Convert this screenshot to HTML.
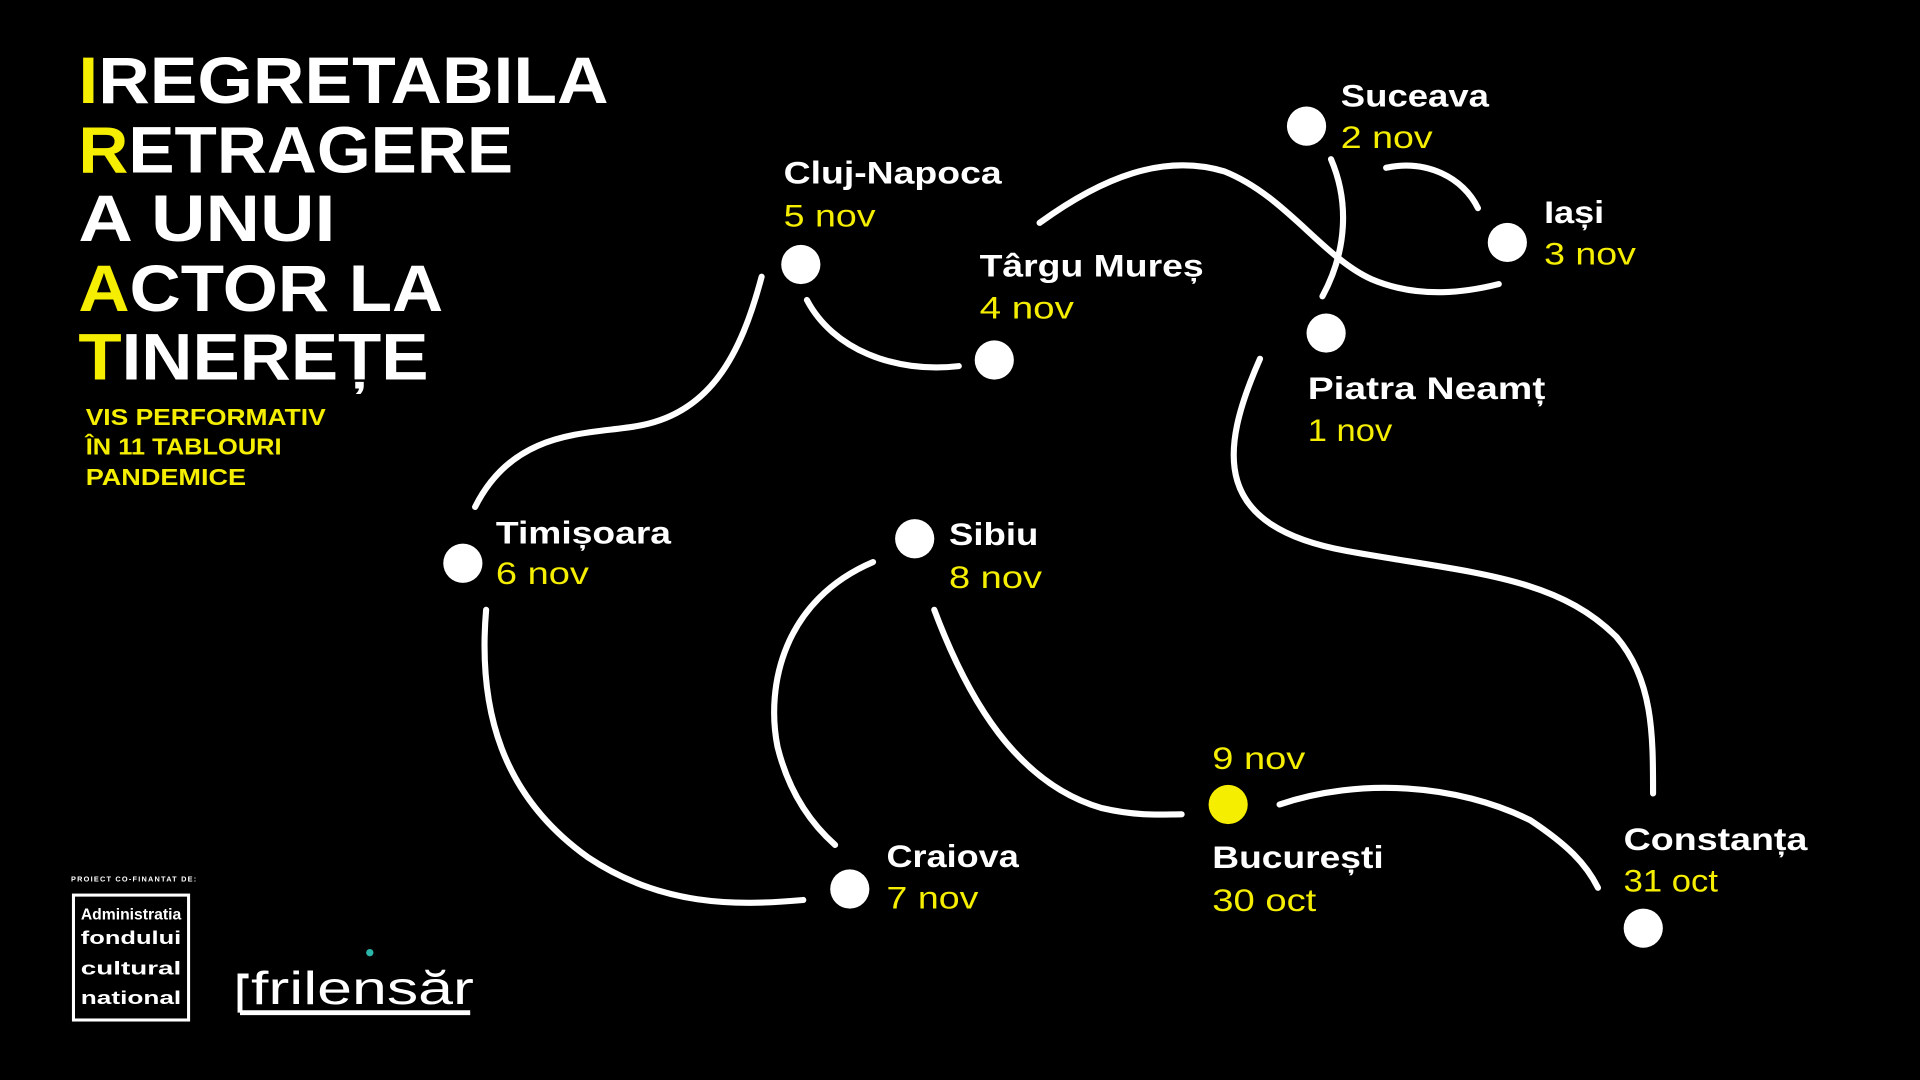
<!DOCTYPE html>
<html><head><meta charset="utf-8"><style>
html,body{margin:0;padding:0;background:#000;width:1920px;height:1080px;overflow:hidden}
svg{display:block}
text{font-family:"Liberation Sans",sans-serif}
.c{font-weight:bold;font-size:26px;fill:#fff}
.d{font-size:26px;fill:#f5ee00}
.t{font-weight:bold;font-size:54px;fill:#fff}
.y{fill:#f5ee00}
.s{font-weight:bold;font-size:19px;fill:#f5ee00}
</style></head><body>
<svg width="1920" height="1080" viewBox="0 0 1568 882" xmlns="http://www.w3.org/2000/svg">
<rect width="1568" height="882" fill="#000"/>
<g class="t">
<text x="64" y="84" textLength="433" lengthAdjust="spacingAndGlyphs"><tspan class="y">I</tspan>REGRETABILA</text>
<text x="64" y="141" textLength="355" lengthAdjust="spacingAndGlyphs"><tspan class="y">R</tspan>ETRAGERE</text>
<text x="64" y="197" textLength="210" lengthAdjust="spacingAndGlyphs">A UNUI</text>
<text x="64" y="254" textLength="298" lengthAdjust="spacingAndGlyphs"><tspan class="y">A</tspan>CTOR LA</text>
<text x="64" y="310" textLength="286" lengthAdjust="spacingAndGlyphs"><tspan class="y">T</tspan>INEREȚE</text>
</g>
<text class="s" x="70" y="347" textLength="196" lengthAdjust="spacingAndGlyphs">VIS PERFORMATIV</text>
<text class="s" x="70" y="371" textLength="160" lengthAdjust="spacingAndGlyphs">ÎN 11 TABLOURI</text>
<text class="s" x="70" y="396" textLength="131" lengthAdjust="spacingAndGlyphs">PANDEMICE</text>

<g fill="none" stroke="#fff" stroke-width="5" stroke-linecap="round">
<path d="M388,414 C420,350 480,355 520,348 C580,338 605,290 622,226"/>
<path d="M659,245 C680,285 730,305 783,299"/>
<path d="M849,182 C900,145 950,125 1000,140 C1050,160 1080,210 1120,228 C1160,245 1200,238 1224,232"/>
<path d="M1087,130 C1102,165 1100,205 1080,242"/>
<path d="M1132,137 C1165,130 1195,145 1207,170"/>
<path d="M1029,293 C995,370 990,430 1100,450 C1200,468 1270,470 1320,520 C1350,555 1350,600 1350,648"/>
<path d="M397,498 C390,580 410,650 480,700 C540,740 600,740 656,735"/>
<path d="M713,459 C640,490 625,560 635,610 C645,650 665,675 682,690"/>
<path d="M763,498 C790,570 830,640 900,660 C930,667 950,665 965,665"/>
<path d="M1045,657 C1110,635 1190,640 1250,670 C1280,690 1295,705 1305,725"/>
</g>
<g fill="#fff">
<circle cx="1067" cy="103" r="16"/><circle cx="1231" cy="198" r="16"/><circle cx="1083" cy="272" r="16"/>
<circle cx="654" cy="216" r="16"/><circle cx="812" cy="294" r="16"/><circle cx="378" cy="460" r="16"/>
<circle cx="747" cy="440" r="16"/><circle cx="694" cy="726" r="16"/><circle cx="1342" cy="758" r="16"/>
</g>
<circle cx="1003" cy="657" r="16" fill="#f5ee00"/>

<g lengthAdjust="spacingAndGlyphs">
<text class="c" x="1095" y="87" textLength="121" lengthAdjust="spacingAndGlyphs">Suceava</text><text class="d" x="1095" y="121" textLength="75" lengthAdjust="spacingAndGlyphs">2 nov</text>
<text class="c" x="1261" y="182" textLength="49" lengthAdjust="spacingAndGlyphs">Iași</text><text class="d" x="1261" y="216" textLength="75" lengthAdjust="spacingAndGlyphs">3 nov</text>
<text class="c" x="1068" y="326" textLength="194" lengthAdjust="spacingAndGlyphs">Piatra Neamț</text><text class="d" x="1068" y="360" textLength="69" lengthAdjust="spacingAndGlyphs">1 nov</text>
<text class="c" x="640" y="150" textLength="178" lengthAdjust="spacingAndGlyphs">Cluj-Napoca</text><text class="d" x="640" y="185" textLength="75" lengthAdjust="spacingAndGlyphs">5 nov</text>
<text class="c" x="800" y="226" textLength="183" lengthAdjust="spacingAndGlyphs">Târgu Mureș</text><text class="d" x="800" y="260" textLength="77" lengthAdjust="spacingAndGlyphs">4 nov</text>
<text class="c" x="405" y="444" textLength="143" lengthAdjust="spacingAndGlyphs">Timișoara</text><text class="d" x="405" y="477" textLength="76" lengthAdjust="spacingAndGlyphs">6 nov</text>
<text class="c" x="775" y="445" textLength="73" lengthAdjust="spacingAndGlyphs">Sibiu</text><text class="d" x="775" y="480" textLength="76" lengthAdjust="spacingAndGlyphs">8 nov</text>
<text class="c" x="724" y="708" textLength="108" lengthAdjust="spacingAndGlyphs">Craiova</text><text class="d" x="724" y="742" textLength="75" lengthAdjust="spacingAndGlyphs">7 nov</text>
<text class="d" x="990" y="628" textLength="76" lengthAdjust="spacingAndGlyphs">9 nov</text>
<text class="c" x="990" y="709" textLength="140" lengthAdjust="spacingAndGlyphs">București</text><text class="d" x="990" y="744" textLength="85" lengthAdjust="spacingAndGlyphs">30 oct</text>
<text class="c" x="1326" y="694" textLength="150" lengthAdjust="spacingAndGlyphs">Constanța</text><text class="d" x="1326" y="728" textLength="77" lengthAdjust="spacingAndGlyphs">31 oct</text>
</g>

<text x="58" y="720" font-size="6" font-weight="bold" fill="#fff" letter-spacing="1">PROIECT CO-FINANTAT DE:</text>
<rect x="60" y="731" width="94" height="102" fill="none" stroke="#fff" stroke-width="2.5"/>
<g font-family="Liberation Mono,monospace" font-weight="bold" fill="#fff" font-size="15">
<text x="66" y="751" font-size="13" textLength="82" lengthAdjust="spacingAndGlyphs">Administratia</text>
<text x="66" y="771" textLength="82" lengthAdjust="spacingAndGlyphs">fondului</text>
<text x="66" y="796" textLength="82" lengthAdjust="spacingAndGlyphs">cultural</text>
<text x="66" y="820" textLength="82" lengthAdjust="spacingAndGlyphs">national</text>
</g>
<path d="M196,827 V797 H203" fill="none" stroke="#fff" stroke-width="4"/>
<path d="M196,827 H384" stroke="#fff" stroke-width="4"/>
<text x="205" y="820" font-size="38" fill="#fff" textLength="182" lengthAdjust="spacingAndGlyphs">frilensăr</text>
<circle cx="302" cy="778" r="3" fill="#2bb5a8"/>
</svg>
</body></html>
